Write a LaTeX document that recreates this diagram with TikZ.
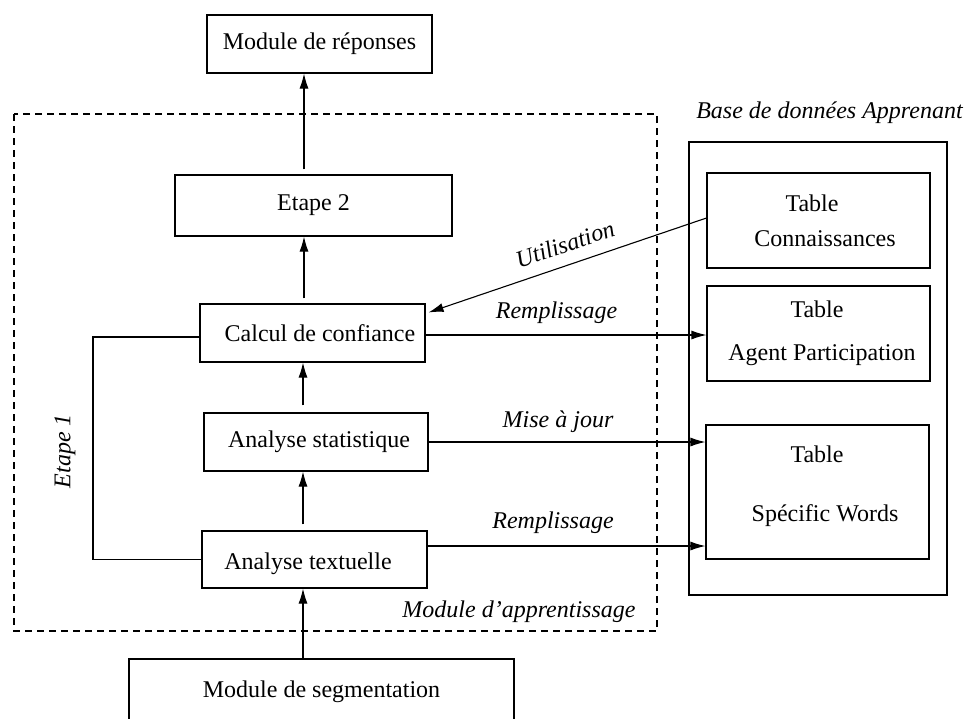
\documentclass[tikz,border=0pt]{standalone}
\usepackage{fontspec}
\setmainfont{Liberation Serif}
\usetikzlibrary{arrows.meta,calc}
\begin{document}
\begin{tikzpicture}[x=0.5pt,y=-0.5pt,
  every node/.style={font=\fontsize{12}{14.5}\selectfont},
  box/.style={draw,line width=0.55pt,inner sep=0pt,align=center},
  arr/.style={line width=0.55pt,-{Latex[length=7.5pt,width=4.5pt]}},
  ln/.style={line width=0.55pt},
  lab/.style={font=\fontsize{12}{14.5}\selectfont\itshape,inner sep=0pt}]
\useasboundingbox (0,0) rectangle (967,718);
% dashed frame
\draw[line width=0.55pt,dash pattern=on 3.5pt off 2.5pt] (14,114) rectangle (657,631);
% boxes
\node[box,minimum width=112.5pt,minimum height=29pt] (rep) at (319.5,44) {Module de réponses};
\node[box,minimum width=138.5pt,minimum height=30.5pt] (e2) at (313.5,205.5) {Etape 2};
\node[box,minimum width=112.5pt,minimum height=29pt] (calc) at (312.5,333) {\hspace*{7.5pt}Calcul de confiance};
\node[box,minimum width=112pt,minimum height=29pt] (stat) at (316,442) {\hspace*{3pt}Analyse statistique};
\node[box,minimum width=112.5pt,minimum height=28.5pt] (txt) at (314.5,559.5) {\raisebox{-2.25pt}[\height][\depth]{Analyse textuelle\hspace*{6.5pt}}};
\node[box,minimum width=192.5pt,minimum height=45pt] (seg) at (321.5,704) {};
\node (segt) at (321.5,692) {Module de segmentation};
% database
\node[box,minimum width=129pt,minimum height=226.5pt] (db) at (818,368.5) {};
\node[box,minimum width=111.5pt,minimum height=47.5pt] (tc) at (818.5,220.5) {\hspace*{-6.5pt}Table\\[3pt]\hspace*{6.5pt}Connaissances};
\node[box,minimum width=111.5pt,minimum height=47.5pt] (ap) at (818.5,333.5) {\hspace*{-1.5pt}Table\\[7pt]\hspace*{3.5pt}Agent Participation};
\node[box,minimum width=111.5pt,minimum height=67pt] (sw) at (817.5,492) {\raisebox{2.75pt}[\height][\depth]{\begin{tabular}{@{}c@{}}\hspace*{-0.5pt}Table\\[15pt]\hspace*{7.5pt}Spécific Words\end{tabular}}};
% labels
\node[lab] (base) at (829.5,113) {Base de données Apprenant};
\node[lab] (mapp) at (519,612) {Module d’apprentissage};
\node[lab,rotate=90] (et1) at (65,451) {Etape 1};
% vertical arrows
\coordinate (cA) at (304,0);
\coordinate (cB) at (303,0);
\draw[arr] ($(e2.north -| cA)+(0,-5)$) -- (rep.south -| cA);
\draw[arr] ($(calc.north -| cA)+(0,-5)$) -- (e2.south -| cA);
\draw[arr] ($(stat.north -| cB)+(0,-7)$) -- (calc.south -| cB);
\draw[arr] ($(txt.north -| cB)+(0,-6)$) -- (stat.south -| cB);
\draw[arr] (seg.north -| cB) -- (txt.south -| cB);
% feedback line
\coordinate (fb) at (93,0);
\draw[ln] ($(calc.west)+(0,4)$) -| ($(txt.west -| fb)$) -- (txt.west);
% horizontal arrows
\draw[arr] ($(calc.east)+(0,2)$) coordinate (c1) -- (c1 -| ap.west);
\node[lab] (r1) at (556.5,313) {Remplissage};
\draw[arr] (stat.east) -- (stat.east -| sw.west);
\node[lab] (mj) at (558,422) {Mise à jour};
\draw[arr] ($(txt.east)+(0,-13.5)$) coordinate (t1) -- (t1 -| sw.west);
\node[lab] (r2) at (553,523) {Remplissage};
% utilisation
\draw[arr] ($(tc.west)+(0,-2.5)$) -- ($(calc.north east)+(3,9)$);
\node[lab,rotate=18.8] (util) at (565,244) {Utilisation};
\end{tikzpicture}
\end{document}
